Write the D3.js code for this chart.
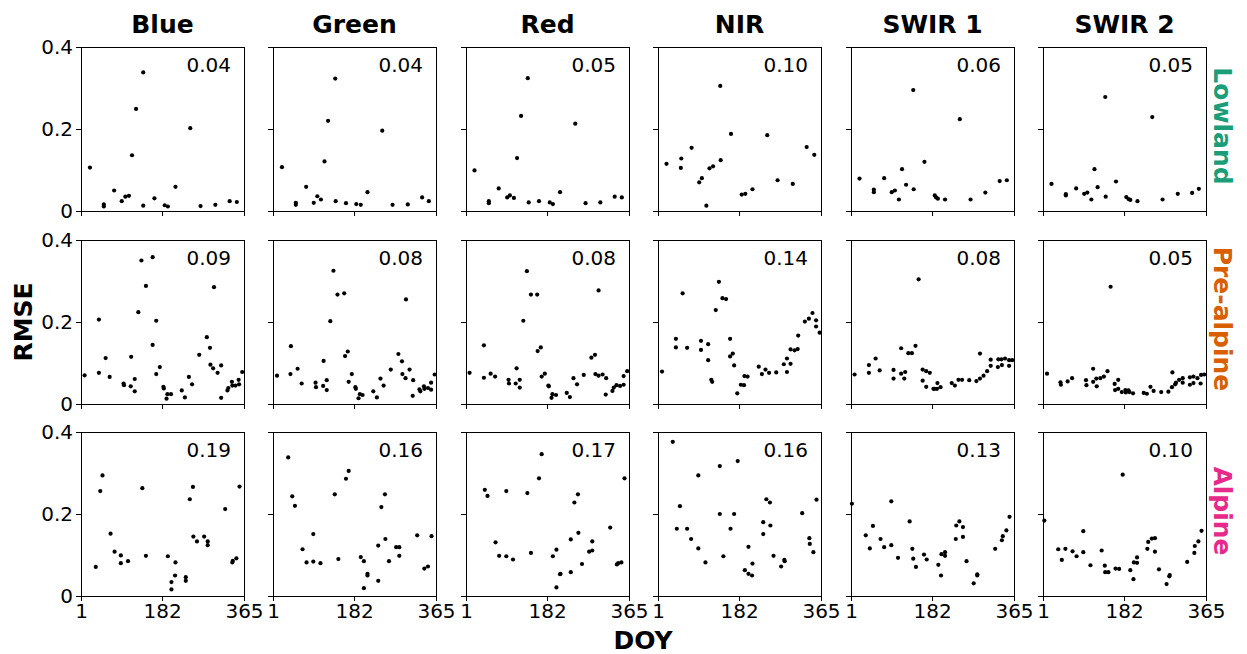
<!DOCTYPE html>
<html>
<head>
<meta charset="utf-8">
<script src="https://cdn.jsdelivr.net/npm/d3@7"></script>
<style>
  body { margin: 0; background: #fff; }
  text { font-family: "DejaVu Sans", sans-serif; }
</style>
</head>
<body>
<div id="chart"></div>
<script>
// categories
const bands = ["Blue", "Green", "Red", "NIR", "SWIR 1", "SWIR 2"];
const regions = ["Lowland", "Pre-alpine", "Alpine"];
const regionColors = ["#1b9e77", "#d95f02", "#e7298a"];

// tick labels
const xTicks = [1, 182, 365];
const yTicks = [0, 0.2, 0.4];
const yTickLabels = ["0", "0.2", "0.4"];

// overall RMSE written in each panel (one per band)
const lowlandRmse = ["0.04", "0.04", "0.05", "0.10", "0.06", "0.05"];
const prealpineRmse = ["0.09", "0.08", "0.08", "0.14", "0.08", "0.05"];
const alpineRmse = ["0.19", "0.16", "0.17", "0.16", "0.13", "0.10"];

// [DOY, RMSE] per band, in band order
const lowlandPoints = [
  [[21,0.106],[52,0.016],[52,0.011],[75,0.050],[92,0.024],[100,0.035],[108,0.037],[115,0.136],[124,0.249],[140,0.338],[140,0.013],[165,0.031],[188,0.014],[195,0.011],[212,0.059],[245,0.202],[268,0.012],[301,0.015],[333,0.024],[349,0.022]],
  [[21,0.107],[52,0.020],[52,0.015],[75,0.059],[92,0.020],[100,0.036],[108,0.028],[116,0.121],[124,0.220],[140,0.323],[141,0.024],[164,0.019],[187,0.017],[197,0.015],[212,0.046],[245,0.196],[268,0.015],[302,0.016],[334,0.033],[349,0.024]],
  [[20,0.099],[52,0.024],[52,0.019],[74,0.055],[93,0.033],[99,0.038],[108,0.032],[115,0.129],[124,0.232],[139,0.324],[141,0.021],[164,0.024],[188,0.021],[195,0.017],[211,0.046],[245,0.213],[268,0.019],[301,0.021],[333,0.035],[349,0.033]],
  [[20,0.115],[52,0.105],[53,0.128],[76,0.154],[93,0.070],[99,0.080],[109,0.013],[116,0.104],[124,0.109],[140,0.305],[141,0.124],[164,0.188],[188,0.040],[196,0.042],[212,0.053],[245,0.185],[268,0.075],[302,0.066],[333,0.156],[350,0.137]],
  [[20,0.079],[52,0.046],[52,0.052],[75,0.080],[92,0.046],[99,0.050],[108,0.028],[115,0.102],[124,0.064],[140,0.295],[141,0.053],[165,0.120],[188,0.038],[191,0.033],[195,0.030],[211,0.028],[244,0.224],[268,0.028],[301,0.045],[333,0.073],[349,0.075]],
  [[20,0.066],[52,0.041],[52,0.038],[75,0.055],[93,0.042],[100,0.045],[109,0.028],[116,0.102],[123,0.058],[140,0.278],[141,0.035],[164,0.072],[187,0.034],[192,0.029],[196,0.027],[212,0.024],[245,0.229],[268,0.028],[302,0.042],[334,0.044],[349,0.054]]
];

const prealpinePoints = [
  [[9,0.070],[41,0.076],[41,0.206],[56,0.112],[65,0.066],[96,0.050],[97,0.046],[112,0.043],[113,0.115],[121,0.061],[121,0.031],[129,0.224],[136,0.350],[146,0.288],[161,0.358],[161,0.144],[169,0.203],[169,0.073],[177,0.090],[185,0.042],[186,0.038],[192,0.013],[194,0.024],[202,0.024],[226,0.033],[233,0.016],[242,0.066],[249,0.048],[265,0.120],[282,0.163],[289,0.137],[290,0.096],[296,0.087],[298,0.285],[306,0.076],[314,0.015],[314,0.094],[328,0.033],[330,0.039],[338,0.054],[339,0.045],[346,0.045],[353,0.059],[354,0.048],[361,0.078]],
  [[10,0.069],[40,0.073],[41,0.141],[56,0.086],[65,0.050],[96,0.052],[97,0.041],[113,0.044],[114,0.105],[121,0.058],[121,0.034],[129,0.202],[136,0.325],[145,0.267],[160,0.270],[162,0.117],[168,0.128],[170,0.054],[177,0.073],[185,0.041],[186,0.037],[192,0.014],[195,0.024],[201,0.022],[225,0.031],[233,0.016],[241,0.062],[248,0.045],[264,0.084],[281,0.122],[289,0.104],[290,0.073],[297,0.063],[298,0.255],[306,0.084],[313,0.020],[314,0.058],[328,0.036],[330,0.031],[338,0.043],[339,0.037],[347,0.039],[354,0.052],[354,0.035],[362,0.072]],
  [[9,0.076],[41,0.064],[41,0.143],[56,0.074],[66,0.067],[96,0.059],[97,0.050],[112,0.050],[114,0.087],[121,0.059],[121,0.040],[129,0.203],[137,0.324],[146,0.267],[160,0.267],[161,0.129],[168,0.138],[170,0.067],[177,0.074],[185,0.045],[186,0.043],[192,0.015],[194,0.024],[202,0.022],[226,0.027],[233,0.017],[241,0.063],[249,0.048],[264,0.071],[281,0.113],[289,0.120],[290,0.073],[297,0.069],[297,0.277],[306,0.072],[313,0.023],[314,0.063],[328,0.032],[331,0.040],[337,0.046],[345,0.044],[353,0.047],[353,0.068],[361,0.080]],
  [[10,0.079],[41,0.159],[41,0.138],[56,0.270],[66,0.137],[97,0.154],[97,0.132],[113,0.146],[113,0.107],[120,0.059],[122,0.054],[130,0.229],[137,0.298],[145,0.258],[153,0.256],[162,0.159],[162,0.116],[168,0.123],[171,0.094],[178,0.026],[186,0.047],[193,0.046],[194,0.068],[201,0.067],[226,0.091],[233,0.073],[241,0.084],[249,0.076],[265,0.077],[282,0.097],[289,0.111],[289,0.078],[297,0.098],[297,0.133],[306,0.131],[313,0.134],[314,0.167],[329,0.201],[338,0.208],[346,0.222],[354,0.204],[354,0.189],[362,0.174]],
  [[9,0.072],[41,0.095],[41,0.076],[56,0.111],[65,0.082],[96,0.083],[96,0.062],[113,0.136],[113,0.074],[120,0.062],[122,0.078],[129,0.124],[137,0.124],[145,0.142],[152,0.304],[161,0.084],[161,0.057],[169,0.080],[169,0.042],[177,0.076],[185,0.037],[188,0.037],[193,0.037],[194,0.051],[201,0.041],[226,0.051],[233,0.045],[241,0.059],[249,0.059],[265,0.058],[281,0.056],[289,0.062],[289,0.123],[297,0.069],[305,0.080],[313,0.093],[313,0.108],[329,0.090],[330,0.109],[337,0.109],[338,0.095],[345,0.111],[354,0.107],[354,0.093],[361,0.107]],
  [[10,0.074],[40,0.053],[41,0.047],[56,0.055],[66,0.063],[97,0.058],[98,0.046],[113,0.086],[113,0.054],[120,0.062],[121,0.043],[129,0.063],[137,0.067],[145,0.080],[152,0.286],[161,0.049],[162,0.034],[169,0.059],[169,0.037],[177,0.029],[185,0.034],[186,0.028],[192,0.033],[194,0.029],[202,0.026],[226,0.027],[233,0.025],[241,0.042],[248,0.032],[265,0.029],[281,0.030],[289,0.041],[290,0.077],[296,0.048],[298,0.052],[305,0.059],[313,0.063],[313,0.052],[329,0.047],[329,0.065],[337,0.067],[337,0.051],[346,0.063],[353,0.050],[354,0.071],[361,0.072]]
];

const alpinePoints = [
  [[34,0.071],[44,0.256],[49,0.294],[67,0.152],[76,0.108],[90,0.099],[90,0.080],[106,0.085],[138,0.263],[146,0.098],[195,0.097],[203,0.034],[203,0.016],[211,0.050],[212,0.082],[235,0.046],[235,0.037],[244,0.236],[251,0.266],[252,0.145],[260,0.133],[276,0.145],[284,0.133],[284,0.124],[323,0.212],[339,0.082],[340,0.086],[348,0.092],[355,0.267]],
  [[35,0.338],[44,0.243],[50,0.220],[67,0.114],[76,0.082],[91,0.151],[91,0.084],[107,0.080],[139,0.248],[147,0.090],[164,0.286],[170,0.305],[197,0.095],[204,0.085],[212,0.050],[212,0.054],[204,0.019],[236,0.123],[236,0.037],[243,0.217],[251,0.248],[252,0.139],[260,0.085],[276,0.119],[283,0.119],[283,0.098],[323,0.148],[339,0.067],[347,0.072],[355,0.146]],
  [[43,0.259],[49,0.244],[67,0.131],[75,0.098],[91,0.256],[91,0.097],[106,0.089],[138,0.251],[146,0.105],[164,0.287],[170,0.346],[195,0.097],[203,0.021],[203,0.113],[211,0.053],[212,0.054],[235,0.138],[235,0.058],[243,0.228],[251,0.248],[252,0.154],[260,0.078],[276,0.108],[283,0.133],[283,0.111],[323,0.167],[338,0.077],[341,0.080],[348,0.082],[355,0.287]],
  [[34,0.376],[43,0.164],[50,0.219],[66,0.164],[75,0.139],[91,0.116],[91,0.294],[107,0.082],[139,0.317],[139,0.200],[147,0.097],[163,0.164],[171,0.200],[179,0.329],[195,0.063],[203,0.054],[203,0.120],[211,0.050],[212,0.079],[236,0.180],[236,0.151],[243,0.236],[251,0.228],[252,0.172],[259,0.098],[276,0.072],[283,0.088],[284,0.085],[323,0.202],[339,0.141],[340,0.127],[348,0.107],[355,0.235]],
  [[3,0.225],[34,0.148],[43,0.116],[50,0.171],[67,0.139],[75,0.119],[91,0.231],[91,0.124],[106,0.093],[132,0.182],[138,0.115],[140,0.091],[146,0.071],[164,0.101],[170,0.089],[196,0.076],[202,0.050],[203,0.102],[211,0.107],[211,0.098],[235,0.139],[236,0.172],[243,0.182],[251,0.168],[251,0.144],[259,0.085],[275,0.031],[283,0.053],[283,0.050],[323,0.115],[338,0.136],[340,0.146],[348,0.160],[355,0.193]],
  [[4,0.184],[35,0.114],[43,0.088],[51,0.115],[67,0.109],[76,0.097],[91,0.158],[91,0.107],[107,0.075],[132,0.111],[139,0.074],[140,0.058],[147,0.058],[163,0.067],[171,0.066],[179,0.296],[196,0.063],[203,0.041],[204,0.082],[211,0.081],[211,0.094],[234,0.115],[236,0.132],[244,0.140],[251,0.141],[251,0.108],[260,0.065],[277,0.029],[283,0.048],[284,0.051],[323,0.083],[339,0.105],[340,0.122],[348,0.133],[355,0.159]]
];

const allPoints = [lowlandPoints, prealpinePoints, alpinePoints];
const allRmse = [lowlandRmse, prealpineRmse, alpineRmse];

// figure size and panel grid
const width = 1247, height = 654;
const grid = {left: 81, top: 47, w: 163, h: 164, stepX: 192.4, stepY: 192.6};

const svg = d3.select("#chart")
    .append("svg")
    .attr("width", width)
    .attr("height", height);

// scales shared by every panel
const x = d3.scaleLinear()
    .domain([1, 365])
    .range([0, grid.w]);

const y = d3.scaleLinear()
    .domain([0, 0.4])
    .range([grid.h, 0]);

regions.forEach((region, r) => {
    bands.forEach((band, c) => {
        const px = Math.round(grid.left + c * grid.stepX);
        const py = Math.round(grid.top + r * grid.stepY);

        const g = svg.append("g")
            .attr("transform", `translate(${px}, ${py})`);

        // X axis (labels only on the bottom row)
        const xAxis = d3.axisBottom(x)
            .tickValues(xTicks)
            .tickSize(5)
            .tickPadding(3);
        if (r < regions.length - 1) xAxis.tickFormat("");

        g.append("g")
            .attr("transform", `translate(0, ${grid.h})`)
            .call(xAxis)
            .call(a => a.select(".domain").remove())
            .attr("font-size", 20)
            .attr("font-family", "DejaVu Sans, sans-serif")
            .selectAll("text")
            .attr("fill", "#000");

        // Y axis (labels only on the first column)
        const yAxis = d3.axisLeft(y)
            .tickValues(yTicks)
            .tickSize(5)
            .tickPadding(3)
            .tickFormat((d, i) => c === 0 ? yTickLabels[i] : "");

        g.append("g")
            .call(yAxis)
            .call(a => a.select(".domain").remove())
            .attr("font-size", 20)
            .attr("font-family", "DejaVu Sans, sans-serif")
            .selectAll("text")
            .attr("fill", "#000");

        // frame on all four sides
        g.append("rect")
            .attr("x", 0.5)
            .attr("y", 0.5)
            .attr("width", grid.w)
            .attr("height", grid.h)
            .attr("fill", "none")
            .attr("stroke", "#000")
            .attr("stroke-width", 1);

        // points
        g.selectAll("circle")
            .data(allPoints[r][c])
            .join("circle")
            .attr("cx", d => x(d[0]))
            .attr("cy", d => y(d[1]))
            .attr("r", 2.1)
            .attr("fill", "#000");

        // overall RMSE
        g.append("text")
            .attr("x", grid.w - 13)
            .attr("y", 25)
            .attr("text-anchor", "end")
            .style("font-size", "20px")
            .text(allRmse[r][c]);

        // band titles on top row
        if (r === 0) {
            svg.append("text")
                .attr("x", px + grid.w / 2)
                .attr("y", 33)
                .attr("text-anchor", "middle")
                .style("font-size", "25px")
                .style("font-weight", "bold")
                .text(band);
        }
    });

    // region label on the right, reading downwards
    const cy = Math.round(grid.top + r * grid.stepY) + grid.h / 2 - 3;
    svg.append("text")
        .attr("transform", `translate(1222, ${cy}) rotate(90)`)
        .attr("text-anchor", "middle")
        .attr("dominant-baseline", "central")
        .attr("fill", regionColors[r])
        .style("font-size", "25px")
        .style("font-weight", "bold")
        .text(region);
});

// shared axis labels
svg.append("text")
    .attr("transform", `translate(23, 322) rotate(-90)`)
    .attr("text-anchor", "middle")
    .attr("dominant-baseline", "central")
    .style("font-size", "25px")
    .style("font-weight", "bold")
    .text("RMSE");

svg.append("text")
    .attr("x", 643)
    .attr("y", 649)
    .attr("text-anchor", "middle")
    .style("font-size", "25px")
    .style("font-weight", "bold")
    .text("DOY");
</script>
</body>
</html>
